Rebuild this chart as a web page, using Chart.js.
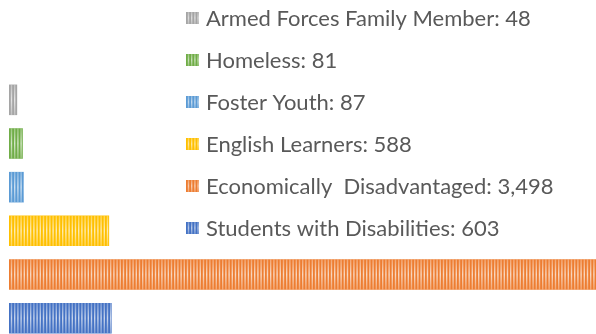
<!DOCTYPE html>
<html>
<head>
<meta charset="utf-8">
<script src="https://cdn.jsdelivr.net/npm/chart.js@4.4.1/dist/chart.umd.min.js"></script>
<style>
  html, body { margin: 0; padding: 0; background: #fff; overflow: hidden; }
  #wrap { position: absolute; left: 0; top: 0; width: 596px; height: 340px; }
</style>
</head>
<body>
<div id="wrap"><canvas id="c"></canvas></div>
<script>
// Student groups, listed top to bottom
const categories = [
  'Armed Forces Family Member',
  'Homeless',
  'Foster Youth',
  'English Learners',
  'Economically  Disadvantaged',
  'Students with Disabilities'
];
const studentCounts = [48, 81, 87, 588, 3498, 603];
const groupColors = ['#A5A5A5', '#70AD47', '#5B9BD5', '#FFC000', '#ED7D31', '#4472C4'];

// Light vertical pinstripes over a solid fill, brightest along the middle
function paintStripes(ctx, x, y, w, h, strength) {
  ctx.save();
  ctx.beginPath();
  ctx.rect(x, y, w, h);
  ctx.clip();
  const g = ctx.createLinearGradient(0, y, 0, y + h);
  g.addColorStop(0, 'rgba(255,255,255,' + (strength * 0.3) + ')');
  g.addColorStop(0.5, 'rgba(255,255,255,' + (strength * 0.7) + ')');
  g.addColorStop(1, 'rgba(255,255,255,' + (strength * 0.3) + ')');
  ctx.fillStyle = g;
  for (let sx = x + 1.8; sx < x + w; sx += 3.2) {
    ctx.fillRect(sx, y, 1.4, h);
  }
  ctx.restore();
}

const stripePlugin = {
  id: 'stripes',
  afterDatasetsDraw(chart) {
    const ctx = chart.ctx;
    const area = chart.chartArea;
    chart.getDatasetMeta(0).data.forEach((bar) => {
      const top = bar.y - bar.height / 2;
      const left = Math.min(bar.base, bar.x);
      const right = Math.min(Math.max(bar.base, bar.x), area.right);
      paintStripes(ctx, left, top, right - left, bar.height, 1);
    });
  }
};

// Legend block in the upper right: "Group: count"
const groupLegend = {
  id: 'groupLegend',
  afterDraw(chart) {
    const ctx = chart.ctx;
    const labels = chart.data.labels;
    const values = chart.data.datasets[0].data;
    const colors = chart.data.datasets[0].backgroundColor;
    ctx.save();
    ctx.font = '22px Lato, "Open Sans", sans-serif';
    ctx.textBaseline = 'middle';
    ctx.textAlign = 'left';
    labels.forEach((label, i) => {
      const cy = 18 + 42 * i;
      ctx.fillStyle = colors[i];
      ctx.fillRect(186, cy - 6, 13, 12);
      paintStripes(ctx, 186, cy - 6, 13, 12, 0.9);
      ctx.fillStyle = '#595959';
      ctx.fillText(label + ': ' + values[i].toLocaleString('en-US'), 206, cy + 1);
    });
    ctx.restore();
  }
};

new Chart(document.getElementById('c'), {
  type: 'bar',
  data: {
    labels: categories,
    datasets: [{
      data: studentCounts,
      backgroundColor: groupColors,
      borderWidth: 0,
      barPercentage: 0.7,
      categoryPercentage: 1.0
    }]
  },
  options: {
    indexAxis: 'y',
    responsive: true,
    maintainAspectRatio: false,
    animation: false,
    layout: { padding: { top: 78, left: 9, right: 0, bottom: 0 } },
    scales: {
      x: { display: false, min: 0, max: 3447 },
      y: { display: false }
    },
    plugins: {
      legend: { display: false },
      tooltip: { enabled: false }
    }
  },
  plugins: [stripePlugin, groupLegend]
});
</script>
</body>
</html>
